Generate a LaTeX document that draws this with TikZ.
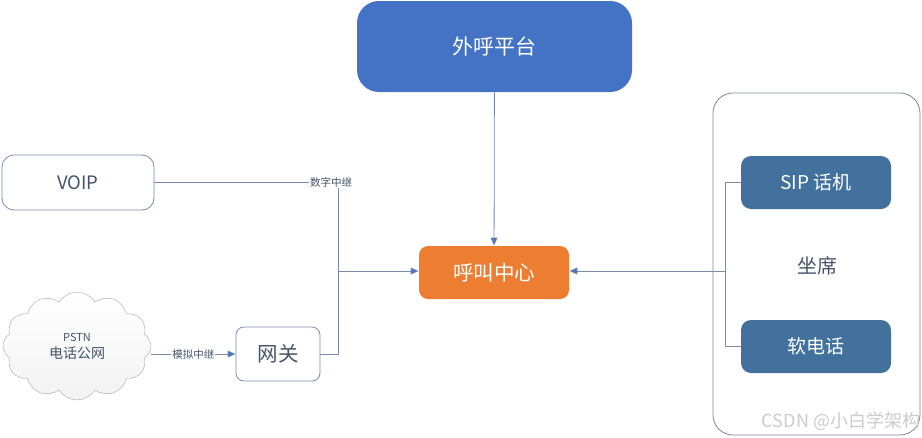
\documentclass[tikz,border=0pt]{standalone}
\usepackage{fontspec}
\setmainfont{Noto Sans CJK SC}
\usetikzlibrary{arrows.meta,positioning,shapes.symbols}
\definecolor{ccblue}{HTML}{4472C4}
\definecolor{ccorange}{HTML}{ED7D31}
\definecolor{ccsteel}{HTML}{41719C}
\definecolor{ccline}{HTML}{7A8AB0}
\definecolor{cctext}{HTML}{44546A}
\definecolor{ccrule}{HTML}{7F8794}

\begin{document}
\begin{tikzpicture}[x=1pt,y=-1pt,
  box/.style={draw=ccline,rounded corners=10pt,fill=white,text=cctext,align=center,inner sep=0pt,line width=0.8pt},
  solid/.style={box,draw=none,text=white},
  steel/.style={solid,fill=ccsteel,minimum width=150pt,minimum height=53pt,font=\fontsize{19}{22}\selectfont},
  tag/.style={fill=white,inner sep=1pt,text=cctext,font=\fontsize{10.5}{12}\selectfont},
  line/.style={draw=ccline,line width=0.8pt},
  link/.style={line,-{Triangle[length=8pt,width=7pt,fill=ccblue]}}
]
  \useasboundingbox (0,0) rectangle (922,437);
  \node[solid,fill=ccblue,rounded corners=22pt,minimum width=275pt,minimum height=91pt,font=\fontsize{21}{24}\selectfont] (platform) at (494.5,46.5) {外呼平台};
  \node[solid,fill=ccorange,rounded corners=9pt,minimum width=150pt,minimum height=53pt,font=\fontsize{20.5}{24}\selectfont] (center) at (494,272.5) {呼叫中心};
  \node[box,rounded corners=12pt,minimum width=152pt,minimum height=55pt,font=\fontsize{18.5}{22}\selectfont] (voip) at (78,182.5) {VOIP};
  \node[cloud,cloud puffs=12,cloud puff arc=115,aspect=1.35,draw=gray!70,top color=white,bottom color=gray!10,minimum width=148pt,minimum height=108pt,inner sep=0pt,align=center,text=cctext,font=\fontsize{14}{17}\selectfont] (pstn) at (77,346) {{\fontsize{11}{17}\selectfont PSTN}\\电话公网};
  \node[box,rounded corners=8pt,minimum width=84pt,minimum height=54pt,font=\fontsize{20.5}{24}\selectfont] (gateway) at (278,354) {网关};
  \node[box,draw=ccrule,rounded corners=20pt,minimum width=207pt,minimum height=342pt] (seats) at (816.5,264) {};
  \node[steel] (sip) at (816,182.5) {SIP 话机};
  \node[steel] (soft) at (816,346.5) {软电话};
  \node[text=cctext,font=\fontsize{20}{23}\selectfont] (seatlabel) at (817,266) {坐席};
  \node[text=gray!40,font=\fontsize{18}{21}\selectfont] (mark) at (841,421) {CSDN @小白学架构};

  \coordinate (jleft) at (338,271);
  \coordinate (jright) at (725,271);
  % connectors
  \draw[link] (platform) -- (center);
  \draw[line] (voip.east) -| (jleft);
  \draw[line] (gateway.east) -| (jleft);
  \draw[link] (jleft) -- (jleft -| center.west);
  \node[tag] (digital) at (331,182) {数字中继};
  \draw[link] (pstn.east |- gateway.west) -- (gateway.west) node[tag,midway] (analog) {模拟中继};
  \draw[line] (sip.west) -| (jright);
  \draw[line] (soft.west) -| (jright);
  \draw[link] (jright) -- (jright -| center.east);
\end{tikzpicture}
\end{document}
